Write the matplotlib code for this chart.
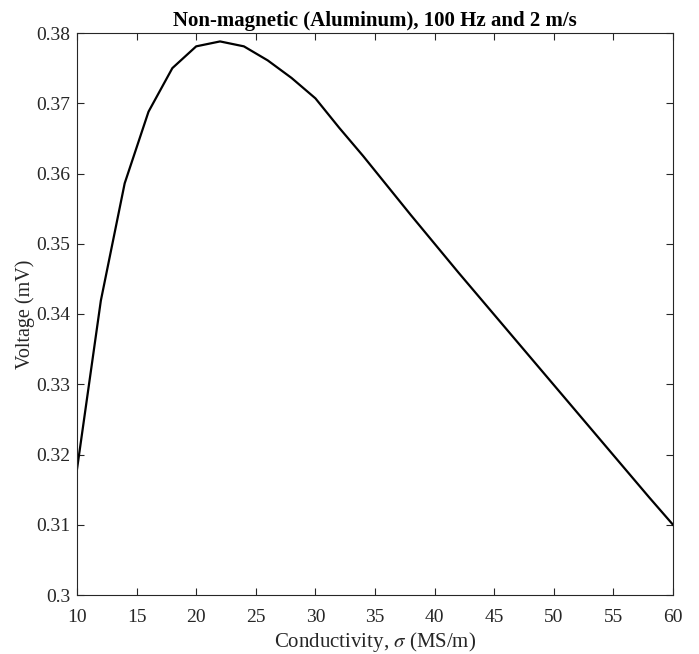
import matplotlib
matplotlib.use("Agg")
import matplotlib.pyplot as plt

conductivity = [10, 12, 14, 16, 18, 20, 22, 24, 26, 28, 30, 32, 34, 36, 38,
                40, 42, 44, 46, 48, 50, 52, 54, 56, 58, 60]
voltage = [0.3179, 0.3419, 0.3586, 0.3688, 0.3750, 0.3781, 0.3788, 0.3781,
           0.3761, 0.3736, 0.3707, 0.3665, 0.3625, 0.3583, 0.3541, 0.3500,
           0.3459, 0.3419, 0.3379, 0.3339, 0.3299, 0.3259, 0.3219, 0.3179,
           0.3139, 0.3100]
xticks = [10, 15, 20, 25, 30, 35, 40, 45, 50, 55, 60]
yticks = [0.30, 0.31, 0.32, 0.33, 0.34, 0.35, 0.36, 0.37, 0.38]
ytick_labels = ["0.3", "0.31", "0.32", "0.33", "0.34", "0.35", "0.36", "0.37", "0.38"]

plt.rcParams['font.family'] = ['Liberation Serif', 'DejaVu Serif']
plt.rcParams['mathtext.fontset'] = 'stix'

gray = '#262626'
fig = plt.figure(figsize=(6.99, 6.54), dpi=100)
ax = fig.add_axes([77/699, 1 - 595/654, (673-77)/699, (595-33)/654])
ax.plot(conductivity, voltage, color='black', lw=1.6)
ax.set_xlim(10, 60)
ax.set_ylim(0.30, 0.38)
ax.set_xticks(xticks)
ax.set_xticklabels([str(t) for t in xticks])
ax.set_yticks(yticks)
ax.set_yticklabels(ytick_labels)
ax.tick_params(direction='in', top=True, right=True, length=5, width=0.8,
               colors=gray, labelsize=14)
ax.tick_params(axis='x', pad=10)
ax.tick_params(axis='y', pad=5)
for s in ax.spines.values():
    s.set_color(gray)
    s.set_linewidth(0.8)
ax.set_xlabel(r'Conductivity, $\sigma$ (MS/m)', fontsize=15, color=gray, labelpad=3)
ax.set_ylabel('Voltage (mV)', fontsize=14.5, color=gray, labelpad=1)
ax.set_title('Non-magnetic (Aluminum), 100 Hz and 2 m/s', fontsize=15,
             fontweight='bold', color='black', pad=5)
fig.savefig('out.png', dpi=100)
